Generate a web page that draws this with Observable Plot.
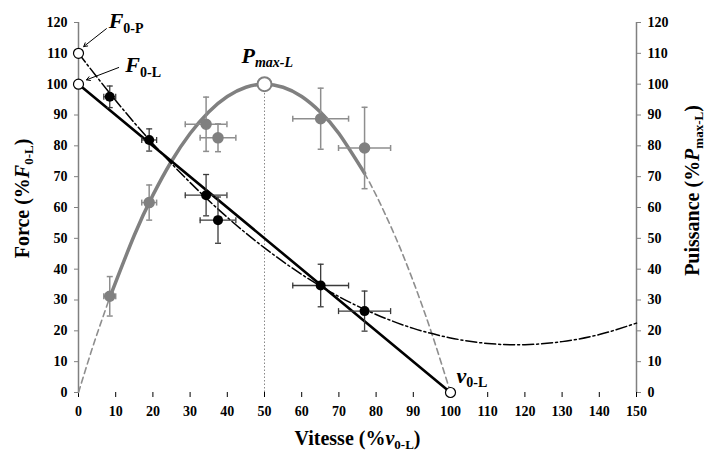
<!DOCTYPE html>
<html><head><meta charset="utf-8">
<script src="https://cdn.jsdelivr.net/npm/d3@7"></script>
<script src="https://cdn.jsdelivr.net/npm/@observablehq/plot@0.6"></script>
<style>body{margin:0;background:#fff}</style>
</head><body><div id="chart"></div>
<script>
// ---- data ----
const ptV      = [8.4, 19.0, 34.3, 37.5, 65.1, 76.9];
const ptVErr   = [1.6, 2.0, 5.6, 4.8, 7.5, 7.0];
const forceF   = [95.9, 81.9, 64.0, 55.9, 34.7, 26.4];
const forceErr = [3.5, 3.6, 6.7, 7.5, 6.9, 6.5];
const powerP   = [31.2, 61.6, 87.0, 82.6, 88.8, 79.3];
const powerErr = [6.4, 5.7, 8.8, 4.5, 9.9, 13.2];

const linV = [0, 100];
const linF = [100, 0];

const parV = [0, 4, 8.4, 15, 20, 25, 30, 35, 40, 45, 50, 55, 60, 65, 70, 76.9, 80, 85, 90, 95, 100];
const parP = [0, 15.4, 30.8, 51, 64, 75, 84, 91, 96, 99, 100, 99, 96, 91, 84, 71.1, 64, 51, 36, 19, 0];
const solidFrom = 8.4, solidTo = 76.9;

const polyV = [0, 10, 20, 30, 40, 50, 60, 70, 80, 90, 100, 110, 120, 130, 140, 150];
const polyF = [110, 94.7, 80.7, 68.1, 56.8, 46.9, 38.3, 31.1, 25.3, 20.8, 17.7, 15.9, 15.5, 16.5, 18.8, 22.5];

const openV = [0, 0, 100];
const openY = [110, 100, 0];
const pmaxV = 50, pmaxP = 100;

const xTicks = [0,10,20,30,40,50,60,70,80,90,100,110,120,130,140,150];
const yTicks = [0,10,20,30,40,50,60,70,80,90,100,110,120];

const annoText = ["F0-P", "F0-L", "Pmax-L", "v0-L"];
const annoV    = [8.1, 12.6, 43.8, 101.6];
const annoY    = [118.3, 104.0, 106.9, 3.0];

const arrowV1 = [7.5, 10.8], arrowY1 = [118.0, 105.4];
const arrowV2 = [1.4, 2.15], arrowY2 = [112.2, 101.4];

const xTitle = "Vitesse (%v0-L)";
const yTitle = "Force (%F0-L)";
const y2Title = "Puissance (%Pmax-L)";

// ---- tables ----
const pts = ptV.map((v, i) => ({v, ve: ptVErr[i], f: forceF[i], fe: forceErr[i], p: powerP[i], pe: powerErr[i]}));
const lin = linV.map((v, i) => ({v, f: linF[i]}));
const par = parV.map((v, i) => ({v, p: parP[i]}));
const poly = polyV.map((v, i) => ({v, f: polyF[i]}));
const opens = openV.map((v, i) => ({v, y: openY[i]}));
const annos = annoText.map((t, i) => ({t, v: annoV[i], y: annoY[i]}));
const arrows = arrowV1.map((v, i) => ({x1: v, y1: arrowY1[i], x2: arrowV2[i], y2: arrowY2[i]}));

const hCap = {draw(ctx, size) { const r = Math.sqrt(size / Math.PI); ctx.moveTo(-r, 0); ctx.lineTo(r, 0); }};
const vCap = {draw(ctx, size) { const r = Math.sqrt(size / Math.PI); ctx.moveTo(0, -r); ctx.lineTo(0, r); }};

const G = "#808080", GB = "#8e8e8e", DK = "#3a3a3a";

function errorBars(yKey, eKey, color, sw) {
  return [
    Plot.ruleX(pts, {x: "v", y1: d => d[yKey] - d[eKey], y2: d => d[yKey] + d[eKey], stroke: color, strokeWidth: sw}),
    Plot.ruleY(pts, {y: yKey, x1: d => d.v - d.ve, x2: d => d.v + d.ve, stroke: color, strokeWidth: sw}),
    Plot.dot(pts, {x: "v", y: d => d[yKey] - d[eKey], symbol: hCap, r: 3, fill: "none", stroke: color, strokeWidth: sw}),
    Plot.dot(pts, {x: "v", y: d => d[yKey] + d[eKey], symbol: hCap, r: 3, fill: "none", stroke: color, strokeWidth: sw}),
    Plot.dot(pts, {x: d => d.v - d.ve, y: yKey, symbol: vCap, r: 3, fill: "none", stroke: color, strokeWidth: sw}),
    Plot.dot(pts, {x: d => d.v + d.ve, y: yKey, symbol: vCap, r: 3, fill: "none", stroke: color, strokeWidth: sw})
  ];
}

const chart = Plot.plot({
  width: 705, height: 452,
  marginLeft: 78, marginRight: 69, marginTop: 22, marginBottom: 60,
  style: {fontFamily: "'Liberation Serif', 'Times New Roman', serif", fontSize: "14px", fontWeight: "bold", background: "white", color: "black"},
  x: {domain: [0, 150]},
  y: {domain: [0, 120]},
  marks: [
    // axes
    Plot.ruleX([0, 150], {y1: 0, y2: 120, stroke: G, strokeWidth: 1.5}),
    Plot.axisY({anchor: "left", ticks: yTicks, tickSize: 4, tickPadding: 7, stroke: G, fill: "black", label: null, fontSize: 14, fontWeight: "bold"}),
    Plot.axisY({anchor: "right", ticks: yTicks, tickSize: 4, tickPadding: 7, stroke: G, fill: "black", label: null, fontSize: 14, fontWeight: "bold"}),
    Plot.axisX({anchor: "bottom", ticks: xTicks, tickSize: 5, tickPadding: 9, stroke: "black", fill: "black", label: null, fontSize: 14, fontWeight: "bold"}),
    // vertical dotted line at Pmax
    Plot.ruleX([pmaxV], {y1: 0, y2: pmaxP, stroke: "#888", strokeWidth: 1, strokeDasharray: "1.5,2"}),
    // power parabola
    Plot.line(par.filter(d => d.v <= solidFrom), {x: "v", y: "p", curve: "natural", stroke: GB, strokeWidth: 1.6, strokeDasharray: "6,4"}),
    Plot.line(par.filter(d => d.v >= solidTo), {x: "v", y: "p", curve: "natural", stroke: GB, strokeWidth: 1.6, strokeDasharray: "6,4"}),
    Plot.line(par.filter(d => d.v >= solidFrom && d.v <= solidTo), {x: "v", y: "p", curve: "natural", stroke: G, strokeWidth: 3.5}),
    // polynomial force fit (dash-dot)
    Plot.line(poly, {x: "v", y: "f", curve: "natural", stroke: "black", strokeWidth: 1.5, strokeDasharray: "11,3,2,3"}),
    // linear force fit
    Plot.line(lin, {x: "v", y: "f", stroke: "black", strokeWidth: 2.6}),
    // power points
    ...errorBars("p", "pe", GB, 1.5),
    Plot.dot(pts, {x: "v", y: "p", r: 5, fill: G, stroke: G}),
    // force points
    ...errorBars("f", "fe", DK, 1.3),
    Plot.dot(pts, {x: "v", y: "f", r: 5, fill: "black"}),
    // open circles
    Plot.dot(opens, {x: "v", y: "y", r: 5, fill: "white", stroke: "black", strokeWidth: 1.2}),
    Plot.dot([{v: pmaxV, p: pmaxP}], {x: "v", y: "p", r: 7, fill: "white", stroke: G, strokeWidth: 2}),
    // arrows & labels
    Plot.arrow(arrows, {x1: "x1", y1: "y1", x2: "x2", y2: "y2", stroke: "black", strokeWidth: 1, headLength: 6}),
    Plot.text(annos, {x: "v", y: "y", text: "t", textAnchor: "start", lineAnchor: "bottom", fontSize: 22, fontWeight: "bold", fill: "black"}),
    // axis titles
    Plot.text([xTitle], {frameAnchor: "bottom", text: d => d, dy: 52, textAnchor: "middle", lineAnchor: "bottom", fontSize: 20, fontWeight: "bold", fill: "black"}),
    Plot.text([yTitle], {frameAnchor: "left", text: d => d, rotate: -90, dx: -50, dy: -9, textAnchor: "middle", lineAnchor: "bottom", fontSize: 20, fontWeight: "bold", fill: "black"}),
    Plot.text([y2Title], {frameAnchor: "right", text: d => d, rotate: -90, dx: 62, dy: -17, textAnchor: "middle", lineAnchor: "bottom", fontSize: 20, fontWeight: "bold", fill: "black"})
  ]
});
document.getElementById("chart").append(chart);

// rich text (italics + subscripts)
const it = s => `<tspan font-style="italic">${s}</tspan>`;
const sub = (s, size, d, ital) => `<tspan dy="${d}" font-size="${size}"${ital ? ' font-style="italic"' : ''}>${s}</tspan>`;
const rich = {
  "F0-P": it("F") + sub("0-P", 14, 5),
  "F0-L": it("F") + sub("0-L", 14, 5),
  "Pmax-L": it("P") + sub("max-L", 14, 4, true),
  "v0-L": it("v") + sub("0-L", 14, 4),
  [xTitle]: "Vitesse (%" + it("v") + sub("0-L", 13, 4) + `<tspan dy="-4">)</tspan>`,
  [yTitle]: "Force (%" + it("F") + sub("0-L", 13, 4) + `<tspan dy="-4">)</tspan>`,
  [y2Title]: "Puissance (%" + it("P") + sub("max-L", 13, 4) + `<tspan dy="-4">)</tspan>`
};
chart.querySelectorAll("text").forEach(el => {
  const t = el.textContent;
  if (rich[t] !== undefined) el.innerHTML = rich[t];
});
</script>
</body></html>
